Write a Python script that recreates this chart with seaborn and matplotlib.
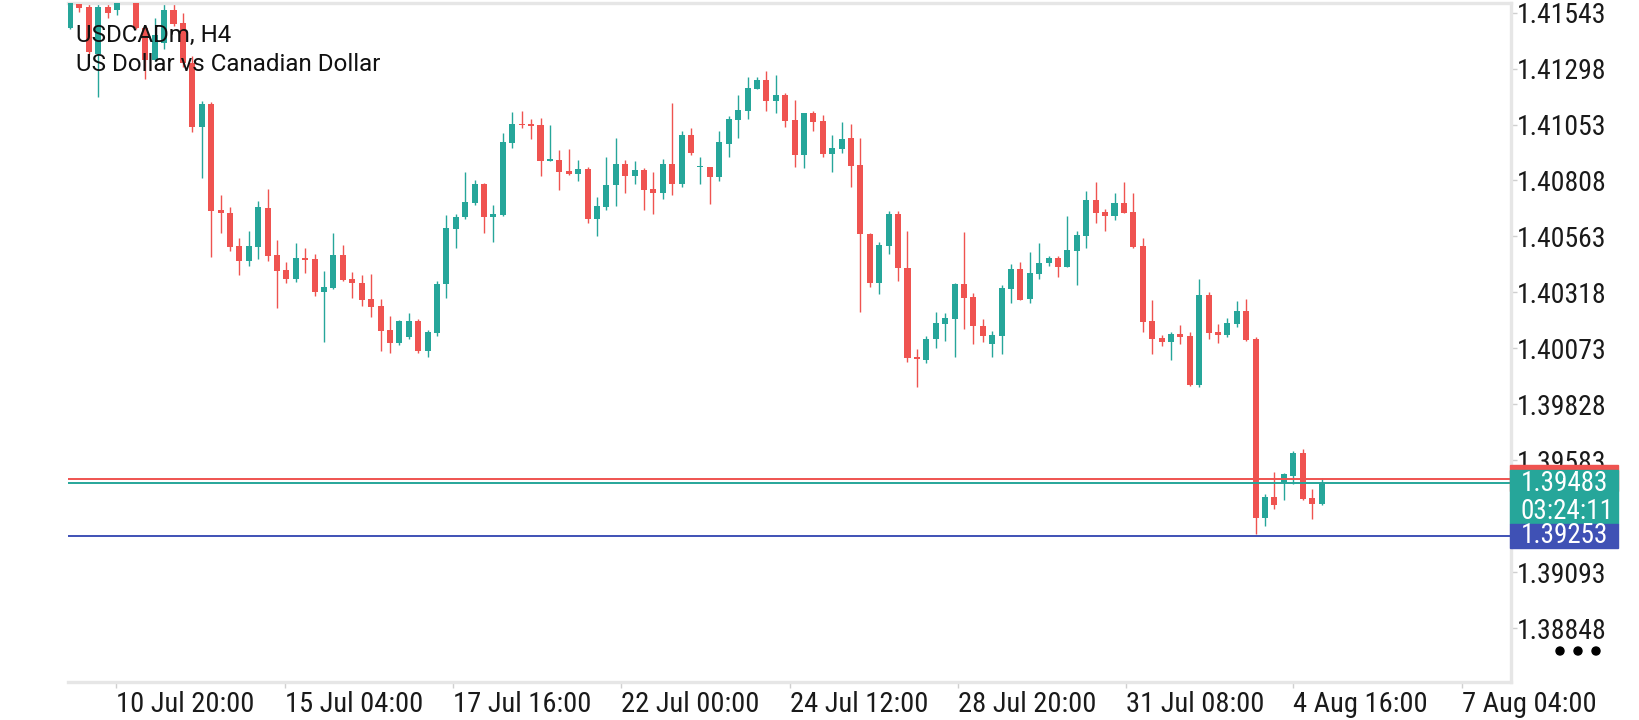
import numpy as np
import pandas as pd
import matplotlib
matplotlib.use("Agg")
import matplotlib.pyplot as plt
import matplotlib.transforms as mtransforms
from matplotlib import font_manager
from matplotlib.patches import Rectangle, Circle
import seaborn as sns

SYMBOL = "USDCADm, H4"
DESCRIPTION = "US Dollar vs Canadian Dollar"

opens = [1.41475, 1.41580, 1.41567, 1.41362, 1.41567, 1.41554, 1.41620, 1.41640, 1.41475, 1.41335,
         1.41410, 1.41554, 1.41497, 1.41322, 1.41042, 1.41143, 1.40679, 1.40665, 1.40521, 1.40455,
         1.40517, 1.40687, 1.40482, 1.40416, 1.40377, 1.40468, 1.40464, 1.40320, 1.40337, 1.40482,
         1.40377, 1.40359, 1.40289, 1.40258, 1.40153, 1.40096, 1.40123, 1.40193, 1.40061, 1.40140,
         1.40355, 1.40595, 1.40648, 1.40709, 1.40792, 1.40648, 1.40657, 1.40972, 1.41055, 1.41055,
         1.41051, 1.40893, 1.40898, 1.40849, 1.40836, 1.40858, 1.40639, 1.40692, 1.40788, 1.40880,
         1.40827, 1.40854, 1.40771, 1.40753, 1.40880, 1.40792, 1.41007, 1.40867, 1.40867, 1.40823,
         1.40967, 1.41073, 1.41112, 1.41208, 1.41248, 1.41156, 1.41182, 1.41073, 1.40919, 1.41103,
         1.41068, 1.40924, 1.40946, 1.40994, 1.40876, 1.40574, 1.40359, 1.40521, 1.40661, 1.40425,
         1.40035, 1.40022, 1.40114, 1.40180, 1.40201, 1.40355, 1.40298, 1.40171, 1.40092, 1.40127,
         1.40333, 1.40420, 1.40289, 1.40398, 1.40447, 1.40468, 1.40429, 1.40499, 1.40565, 1.40722,
         1.40670, 1.40652, 1.40709, 1.40670, 1.40521, 1.40193, 1.40118, 1.40101, 1.40136, 1.40127,
         1.39912, 1.40306, 1.40145, 1.40131, 1.40180, 1.40236, 1.40114, 1.39330, 1.39422, 1.39483,
         1.39514, 1.39615, 1.39418, 1.39391]
highs = [1.41640, 1.41600, 1.41590, 1.41590, 1.41580, 1.41610, 1.41690, 1.41660, 1.41480, 1.41519,
         1.41580, 1.41580, 1.41541, 1.41353, 1.41156, 1.41151, 1.40744, 1.40692, 1.40556, 1.40587,
         1.40718, 1.40771, 1.40547, 1.40451, 1.40534, 1.40512, 1.40486, 1.40412, 1.40578, 1.40525,
         1.40407, 1.40394, 1.40398, 1.40289, 1.40215, 1.40197, 1.40228, 1.40201, 1.40153, 1.40368,
         1.40657, 1.40661, 1.40845, 1.40810, 1.40795, 1.40701, 1.41016, 1.41108, 1.41112, 1.41077,
         1.41081, 1.41051, 1.40941, 1.40946, 1.40898, 1.40867, 1.40736, 1.40911, 1.40994, 1.40898,
         1.40893, 1.40863, 1.40845, 1.40902, 1.41147, 1.41024, 1.41038, 1.40911, 1.40869, 1.41024,
         1.41090, 1.41182, 1.41261, 1.41261, 1.41287, 1.41270, 1.41191, 1.41160, 1.41105, 1.41112,
         1.41095, 1.41007, 1.41064, 1.41055, 1.40994, 1.40578, 1.40539, 1.40674, 1.40674, 1.40587,
         1.40070, 1.40127, 1.40232, 1.40228, 1.40359, 1.40582, 1.40315, 1.40201, 1.40149, 1.40350,
         1.40442, 1.40451, 1.40495, 1.40534, 1.40477, 1.40477, 1.40652, 1.40587, 1.40762, 1.40801,
         1.40683, 1.40753, 1.40801, 1.40753, 1.40556, 1.40285, 1.40131, 1.40145, 1.40175, 1.40145,
         1.40377, 1.40320, 1.40180, 1.40206, 1.40280, 1.40289, 1.40123, 1.39435, 1.39532, 1.39525,
         1.39624, 1.39632, 1.39457, 1.39505]
lows = [1.41470, 1.41545, 1.41362, 1.41173, 1.41519, 1.41532, 1.41600, 1.41470, 1.41252, 1.41331,
        1.41383, 1.41484, 1.41305, 1.41020, 1.40819, 1.40473, 1.40578, 1.40499, 1.40394, 1.40434,
        1.40464, 1.40455, 1.40250, 1.40359, 1.40363, 1.40403, 1.40302, 1.40101, 1.40333, 1.40368,
        1.40293, 1.40258, 1.40210, 1.40061, 1.40052, 1.40088, 1.40114, 1.40052, 1.40035, 1.40127,
        1.40293, 1.40512, 1.40639, 1.40701, 1.40578, 1.40539, 1.40652, 1.40950, 1.41038, 1.40989,
        1.40827, 1.40893, 1.40766, 1.40834, 1.40806, 1.40622, 1.40565, 1.40679, 1.40696, 1.40753,
        1.40792, 1.40679, 1.40661, 1.40727, 1.40744, 1.40779, 1.40919, 1.40792, 1.40705, 1.40806,
        1.40911, 1.40994, 1.41077, 1.41208, 1.41112, 1.41103, 1.41042, 1.40867, 1.40863, 1.41024,
        1.40911, 1.40845, 1.40928, 1.40779, 1.40232, 1.40342, 1.40311, 1.40486, 1.40368, 1.40013,
        1.39904, 1.40009, 1.40074, 1.40105, 1.40035, 1.40158, 1.40092, 1.40101, 1.40035, 1.40048,
        1.40271, 1.40283, 1.40271, 1.40377, 1.40434, 1.40385, 1.40429, 1.40350, 1.40512, 1.40622,
        1.40587, 1.40635, 1.40665, 1.40512, 1.40145, 1.40048, 1.40083, 1.40022, 1.40092, 1.39910,
        1.39904, 1.40114, 1.40096, 1.40123, 1.40166, 1.40105, 1.39258, 1.39295, 1.39370, 1.39409,
        1.39479, 1.39411, 1.39326, 1.39387]
closes = [1.41600, 1.41563, 1.41370, 1.41567, 1.41541, 1.41585, 1.41660, 1.41475, 1.41335, 1.41445,
          1.41554, 1.41493, 1.41322, 1.41042, 1.41143, 1.40674, 1.40665, 1.40517, 1.40455, 1.40521,
          1.40692, 1.40477, 1.40412, 1.40377, 1.40468, 1.40460, 1.40320, 1.40342, 1.40482, 1.40372,
          1.40359, 1.40285, 1.40254, 1.40149, 1.40096, 1.40193, 1.40193, 1.40061, 1.40145, 1.40355,
          1.40600, 1.40648, 1.40714, 1.40792, 1.40648, 1.40661, 1.40976, 1.41055, 1.41051, 1.41046,
          1.40893, 1.40902, 1.40845, 1.40836, 1.40858, 1.40639, 1.40696, 1.40788, 1.40880, 1.40827,
          1.40854, 1.40766, 1.40753, 1.40880, 1.40792, 1.41007, 1.40928, 1.40871, 1.40823, 1.40976,
          1.41077, 1.41116, 1.41213, 1.41248, 1.41156, 1.41182, 1.41068, 1.40919, 1.41103, 1.41064,
          1.40924, 1.40950, 1.40989, 1.40871, 1.40574, 1.40359, 1.40525, 1.40661, 1.40425, 1.40031,
          1.40026, 1.40114, 1.40184, 1.40206, 1.40355, 1.40293, 1.40171, 1.40127, 1.40131, 1.40337,
          1.40420, 1.40285, 1.40403, 1.40447, 1.40468, 1.40429, 1.40503, 1.40569, 1.40722, 1.40665,
          1.40652, 1.40709, 1.40665, 1.40517, 1.40188, 1.40114, 1.40101, 1.40136, 1.40123, 1.39912,
          1.40306, 1.40140, 1.40131, 1.40184, 1.40236, 1.40110, 1.39330, 1.39422, 1.39387, 1.39523,
          1.39615, 1.39413, 1.39391, 1.39483]

# 1.39338 sits behind the price boxes in the original, so it is left out
price_ticks = [1.41543, 1.41298, 1.41053, 1.40808, 1.40563, 1.40318, 1.40073,
               1.39828, 1.39583, 1.39093, 1.38848]
time_tick_bars = [4.9, 22.8, 40.7, 58.6, 76.5, 94.4, 112.2, 130.0, 147.9]
time_tick_labels = ["10 Jul 20:00", "15 Jul 04:00", "17 Jul 16:00", "22 Jul 00:00",
                    "24 Jul 12:00", "28 Jul 20:00", "31 Jul 08:00", "4 Aug 16:00", "7 Aug 04:00"]

bid = 1.39483
ask = 1.39499
alert_level = 1.39253
countdown = "03:24:11"

UP = "#26a69a"
DOWN = "#ef5350"
BLUE = "#3f51b5"
FRAME = "#e6e6e6"

W, H = 1640, 720

sns.set_theme(style="white")
available = {f.name for f in font_manager.fontManager.ttflist}
narrow = "Roboto"
for cand in ["Roboto Condensed", "Liberation Sans Narrow"]:
    if cand in available:
        narrow = cand
        break
plt.rcParams["font.family"] = ["Roboto", "DejaVu Sans"]

df = pd.DataFrame({"open": opens, "high": highs, "low": lows, "close": closes})
df["bar"] = np.arange(len(df))
df["up"] = df["close"] >= df["open"]
df["color"] = np.where(df["up"], UP, DOWN)
df["body_lo"] = df[["open", "close"]].min(axis=1)
df["body_h"] = (df["close"] - df["open"]).abs().clip(lower=0.00004)

fig = plt.figure(figsize=(W / 100, H / 100), dpi=100)
fig.patch.set_facecolor("white")
ax_left, ax_right, ax_top, ax_bottom = 68, 1511, 3, 682
ax = fig.add_axes([ax_left / W, 1 - ax_bottom / H, (ax_right - ax_left) / W, (ax_bottom - ax_top) / H])

# candles
ax.vlines(df["bar"], df["low"], df["high"], colors=df["color"], lw=1.0, zorder=2)
ax.bar(df["bar"], df["body_h"], bottom=df["body_lo"], width=0.64, color=df["color"],
       linewidth=0, zorder=3)

# price lines
ax.axhline(ask, color=DOWN, lw=1.4, zorder=4)
ax.axhline(bid, color=UP, lw=1.4, zorder=4)
ax.axhline(alert_level, color=BLUE, lw=1.4, zorder=4)

y_top, y_bot = 1.41585, 1.38612
ax.set_ylim(y_bot, y_top)
bar_px = 9.41
ax.set_xlim((ax_left - 70) / bar_px, (ax_right - 70) / bar_px)

ax.spines["left"].set_visible(False)
for side in ["top", "right", "bottom"]:
    ax.spines[side].set_visible(True)
    ax.spines[side].set_color(FRAME)
    ax.spines[side].set_linewidth(2.4)

ax.yaxis.tick_right()
ax.set_yticks(price_ticks)
ax.set_yticklabels([f"{p:.5f}" for p in price_ticks])
ax.tick_params(axis="y", right=True, left=False, length=4, width=1.0, color="#cfcfcf",
               pad=0.5, labelsize=20, labelcolor="#1a1a1a")
ax.set_xticks(time_tick_bars)
ax.set_xticklabels(time_tick_labels, ha="left")
ax.tick_params(axis="x", bottom=True, length=4, width=1.0, color="#cfcfcf",
               pad=2.5, labelsize=20.5, labelcolor="#1a1a1a")
for lbl in ax.get_yticklabels() + ax.get_xticklabels():
    lbl.set_family([narrow, "DejaVu Sans"])
ax.grid(False)
ax.set_facecolor("white")

# symbol caption
fig.text(76 / W, 1 - 42 / H, SYMBOL, fontsize=17.4, color="#111111", va="baseline", zorder=10)
fig.text(76 / W, 1 - 71 / H, DESCRIPTION, fontsize=17.4, color="#111111", va="baseline", zorder=10)

# price boxes on the right axis
trans = mtransforms.blended_transform_factory(fig.transFigure, ax.transData)
ppx = (y_top - y_bot) / (ax_bottom - ax_top)
bx0, bx1 = (ax_right - 1) / W, 1618 / W
fig.add_artist(Rectangle((bx0, ask - 12 * ppx), bx1 - bx0, 26 * ppx, transform=trans,
                         color=DOWN, zorder=6, clip_on=False))
fig.add_artist(Rectangle((bx0, bid - 41 * ppx), bx1 - bx0, 54 * ppx, transform=trans,
                         color=UP, zorder=7, clip_on=False))
fig.add_artist(Rectangle((bx0, alert_level - 12 * ppx), bx1 - bx0, 24 * ppx, transform=trans,
                         color=BLUE, zorder=7, clip_on=False))
tx = 1521 / W
box_font = dict(color="white", fontsize=19.5, va="center", family=[narrow, "DejaVu Sans"], zorder=8)
fig.text(tx, bid, f"{bid:.5f}", transform=trans, **box_font)
fig.text(tx, bid - 28 * ppx, countdown, transform=trans, **box_font)
fig.text(tx, alert_level, f"{alert_level:.5f}", transform=trans, **box_font)

# menu dots (drawn in pixel space so they stay round)
for dx in (1560, 1578, 1596):
    fig.add_artist(Circle((dx, H - 651), 4, transform=mtransforms.IdentityTransform(),
                          color="black", zorder=9))

fig.savefig("out.png", dpi=100, facecolor="white")
plt.close(fig)
